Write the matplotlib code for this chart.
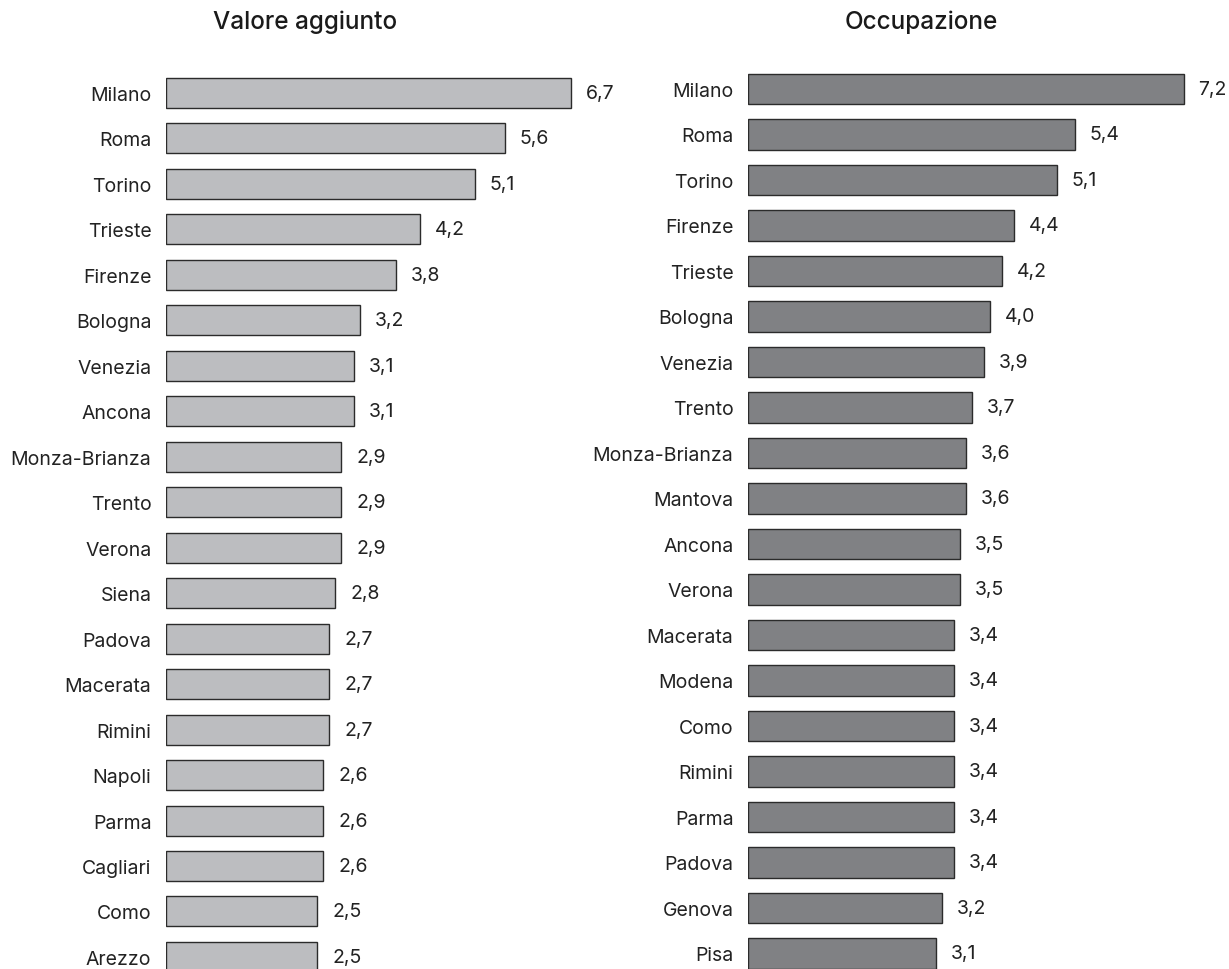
import matplotlib
matplotlib.use("Agg")
import matplotlib.pyplot as plt

# valore aggiunto per provincia
va_labels = ["Milano", "Roma", "Torino", "Trieste", "Firenze", "Bologna", "Venezia",
             "Ancona", "Monza-Brianza", "Trento", "Verona", "Siena", "Padova",
             "Macerata", "Rimini", "Napoli", "Parma", "Cagliari", "Como", "Arezzo"]
va_values = [6.7, 5.6, 5.1, 4.2, 3.8, 3.2, 3.1, 3.1, 2.9, 2.9, 2.9, 2.8, 2.7,
             2.7, 2.7, 2.6, 2.6, 2.6, 2.5, 2.5]

# occupazione per provincia
occ_labels = ["Milano", "Roma", "Torino", "Firenze", "Trieste", "Bologna", "Venezia",
              "Trento", "Monza-Brianza", "Mantova", "Ancona", "Verona", "Macerata",
              "Modena", "Como", "Rimini", "Parma", "Padova", "Genova", "Pisa"]
occ_values = [7.2, 5.4, 5.1, 4.4, 4.2, 4.0, 3.9, 3.7, 3.6, 3.6, 3.5, 3.5, 3.4,
              3.4, 3.4, 3.4, 3.4, 3.4, 3.2, 3.1]

plt.rcParams['font.family'] = ['Inter', 'DejaVu Sans']

W, H = 1229, 970
SCALE = 60.5  # pixels per unit
fig = plt.figure(figsize=(W / 100, H / 100), dpi=100)


def px_axes(x0, y_first, step, n, width):
    # axes placed in pixel units: row centres start at y_first with given step
    top = y_first - step / 2
    bottom = top + step * n
    return fig.add_axes([x0 / W, 1 - bottom / H, width / W, (bottom - top) / H])


def panel(ax, labels, values, color, width_px, title, title_x):
    n = len(labels)
    y = list(range(n))
    xmax = width_px / SCALE
    ax.barh(y, values, height=0.66, color=color, edgecolor='#2b2b2b', linewidth=1.0)
    ax.set_ylim(n - 0.5, -0.5)
    ax.set_xlim(0, xmax)
    for yi, v in zip(y, values):
        ax.text(v + 15 / SCALE, yi, f"{v:.1f}".replace('.', ','),
                va='center', ha='left', fontsize=14, color='#222222')
    ax.set_yticks(y)
    ax.set_yticklabels(labels, fontsize=14, color='#222222')
    ax.tick_params(axis='y', length=0, pad=10.5)
    ax.set_xticks([])
    for s in ax.spines.values():
        s.set_visible(False)
    fig.text(title_x / W, 1 - 22 / H, title, ha='center', va='center',
             fontsize=17.5, fontweight='medium', color='#1a1a1a')


ax1 = px_axes(166, 94, 45.47, len(va_labels), 440)
panel(ax1, va_labels, va_values, '#bcbdc0', 440, "Valore aggiunto", 305)

ax2 = px_axes(748, 90, 45.5, len(occ_labels), 480)
panel(ax2, occ_labels, occ_values, '#808184', 480, "Occupazione", 921)

fig.savefig("out.png", dpi=100)
